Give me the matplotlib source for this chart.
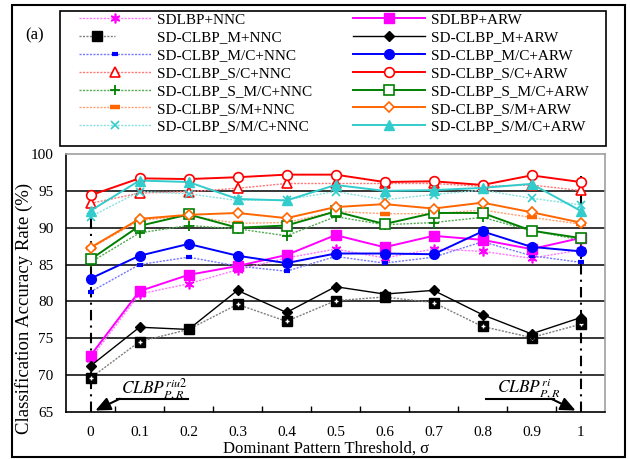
import matplotlib
matplotlib.use('Agg')
import matplotlib.pyplot as plt
from matplotlib.legend_handler import HandlerTuple
from matplotlib.patches import Rectangle

plt.rcParams['font.family'] = ['Liberation Serif', 'DejaVu Serif']
plt.rcParams['mathtext.fontset'] = 'stix'

# ---------------- data ----------------
thresholds = [0, 0.1, 0.2, 0.3, 0.4, 0.5, 0.6, 0.7, 0.8, 0.9, 1.0]
tick_labels = ['0', '0.1', '0.2', '0.3', '0.4', '0.5', '0.6', '0.7', '0.8', '0.9', '1']

sdlbp_nnc = [72.2, 81.0, 82.4, 84.3, 85.9, 87.1, 85.9, 87.1, 86.8, 85.85, 87.0]
sdlbp_arw = [72.65, 81.4, 83.6, 84.8, 86.3, 89.0, 87.35, 88.9, 88.35, 87.1, 88.6]
m_nnc = [69.6, 74.55, 76.2, 79.6, 77.3, 80.1, 80.6, 79.85, 76.6, 75.1, 76.9]
m_arw = [71.25, 76.5, 76.2, 81.5, 78.5, 82.0, 81.0, 81.5, 78.2, 75.6, 77.8]
mc_nnc = [81.3, 85.0, 86.0, 84.8, 84.1, 86.1, 85.2, 86.0, 88.1, 86.2, 85.3]
mc_arw = [83.1, 86.2, 87.8, 86.2, 85.2, 86.5, 86.5, 86.4, 89.5, 87.4, 86.8]
sc_nnc = [93.3, 94.7, 94.9, 95.35, 96.0, 96.0, 96.0, 96.0, 95.6, 95.8, 95.05]
sc_arw = [94.4, 96.7, 96.6, 96.85, 97.2, 97.2, 96.2, 96.3, 95.8, 97.1, 96.2]
s_mc_nnc = [85.3, 89.3, 90.3, 89.85, 88.9, 91.5, 90.4, 90.7, 91.4, 89.6, 88.35]
s_mc_arw = [85.7, 90.25, 91.8, 90.0, 90.3, 92.2, 90.5, 92.0, 92.0, 89.6, 88.6]
sm_nnc = [87.2, 91.0, 91.6, 90.6, 90.7, 92.2, 91.9, 91.9, 92.4, 91.4, 90.5]
sm_arw = [87.3, 91.2, 91.75, 92.0, 91.3, 92.8, 93.2, 92.6, 93.4, 92.1, 90.7]
smc_nnc = [91.5, 94.9, 94.6, 93.7, 93.8, 94.9, 93.8, 94.5, 95.1, 94.0, 93.1]
smc_arw = [92.3, 96.4, 96.2, 93.9, 93.7, 95.8, 95.0, 95.1, 95.4, 95.95, 92.3]

labels_nnc = ['SDLBP+NNC', 'SD-CLBP_M+NNC', 'SD-CLBP_M/C+NNC', 'SD-CLBP_S/C+NNC',
              'SD-CLBP_S_M/C+NNC', 'SD-CLBP_S/M+NNC', 'SD-CLBP_S/M/C+NNC']
labels_arw = ['SDLBP+ARW', 'SD-CLBP_M+ARW', 'SD-CLBP_M/C+ARW', 'SD-CLBP_S/C+ARW',
              'SD-CLBP_S_M/C+ARW', 'SD-CLBP_S/M+ARW', 'SD-CLBP_S/M/C+ARW']

# ---------------- figure ----------------
W, H = 630, 459
fig = plt.figure(figsize=(W / 100, H / 100), dpi=100)
ax = fig.add_axes([66 / W, 1 - 412 / H, 539 / W, 258 / H])

magenta, black, blue, red, green, orange, cyan = ('#FF00FF', '#000000', '#0000FF',
                                                  '#FF0000', '#008000', '#FF6600', '#33CCCC')
light = {magenta: '#FF77FF', black: '#7F7F7F', blue: '#7777FF', red: '#FF7777',
         green: '#55AA55', orange: '#FFA070', cyan: '#88E0E0'}

nnc_specs = [
    (sdlbp_nnc, magenta, dict(marker=(6, 2, 0), ms=7, mew=1.2, mfc=magenta, mec=magenta)),
    (m_nnc, black, dict(marker='s', ms=7.5, mfc='black', mec='black', mew=1)),
    (mc_nnc, blue, dict(marker='_', ms=5, mew=3, mec=blue)),
    (sc_nnc, red, dict(marker='^', ms=7, mfc='white', mec=red, mew=1.2)),
    (s_mc_nnc, green, dict(marker='+', ms=7, mew=1.3, mec=green)),
    (sm_nnc, orange, dict(marker='_', ms=7, mew=3.2, mec=orange)),
    (smc_nnc, cyan, dict(marker='x', ms=5.5, mew=1.2, mec=cyan)),
]
arw_specs = [
    (sdlbp_arw, magenta, dict(marker='s', ms=6.5, mfc=magenta, mec=magenta)),
    (m_arw, black, dict(marker='D', ms=5.5, mfc='black', mec='black')),
    (mc_arw, blue, dict(marker='o', ms=7, mfc=blue, mec=blue)),
    (sc_arw, red, dict(marker='o', ms=7, mfc='white', mec=red, mew=1.2)),
    (s_mc_arw, green, dict(marker='s', ms=6.5, mfc='white', mec=green, mew=1.2)),
    (sm_arw, orange, dict(marker='D', ms=5.5, mfc='white', mec=orange, mew=1.2)),
    (smc_arw, cyan, dict(marker='^', ms=7.5, mfc=cyan, mec=cyan)),
]

handles_nnc, handles_arw = [], []
for vals, col, mk in nnc_specs:
    ln, = ax.plot(thresholds, vals, color=light[col], ls=(0, (1.5, 1)), lw=1.0, zorder=3, **mk)
    if col == black:
        pl, = ax.plot(thresholds, vals, ls='none', marker='+', ms=3.5, mew=1.0,
                      mec='white', zorder=3.1)
        handles_nnc.append((ln, pl))
    else:
        handles_nnc.append(ln)
for vals, col, mk in arw_specs:
    lw = 1.0 if col == black else 1.4
    ln, = ax.plot(thresholds, vals, color=col, ls='-', lw=lw, zorder=4, **mk)
    handles_arw.append(ln)

# axes styling
ax.set_xlim(-0.05, 1.05)
ax.set_ylim(65, 100)
ax.set_yticks(range(65, 101, 5))
ax.set_xticks(thresholds)
ax.set_xticklabels(tick_labels)
ax.set_xticks([t + 0.05 for t in thresholds[:-1]], minor=True)
ax.tick_params(axis='x', which='major', length=0, pad=10, labelsize=11)
ax.tick_params(axis='x', which='minor', direction='in', length=4, width=1, color='black')
ax.tick_params(axis='y', length=0, pad=9, labelsize=11)
ax.yaxis.grid(True, color='black', lw=1.1)
ax.set_axisbelow(True)
gl = ax.get_ygridlines()
gl[0].set_visible(False)
gl[-1].set_visible(False)
for s in ('top', 'right'):
    ax.spines[s].set_color('#A0A0A0')
    ax.spines[s].set_linewidth(1.2)
for s in ('left', 'bottom'):
    ax.spines[s].set_color('black')
    ax.spines[s].set_linewidth(1.2)

ax.set_xlabel('Dominant Pattern Threshold, σ', fontsize=12)
ax.xaxis.set_label_coords(0.482, -0.112)
ax.set_ylabel('Classification Accuracy Rate (%)', fontsize=13.5)
ax.yaxis.set_label_coords(-0.062, 0.40)

# reference lines for the two limiting cases
ax.vlines(thresholds[0], 65, 95, colors='black', lw=1.5, ls=(0, (5, 2.5, 1, 2.5)), zorder=2)
ax.vlines(thresholds[-1], 65, 97, colors='black', lw=1.5, ls=(0, (5, 2.5, 1, 2.5)), zorder=2)

ax.text(0.063, 67.5, r'$\mathit{CLBP}_{P,R}^{riu2}$', fontsize=12.5, ha='left', va='baseline')
ax.plot([0.198, 0.055], [66.8, 66.8], color='black', lw=1.5, zorder=5)
ax.annotate('', xy=(0.01, 65.2), xytext=(0.06, 66.8),
            arrowprops=dict(arrowstyle='-|>,head_length=0.9,head_width=0.4',
                            color='black', lw=1.5, shrinkA=0, shrinkB=0), zorder=5)
ax.text(0.829, 67.5, r'$\mathit{CLBP}_{P,R}^{ri}$', fontsize=12.5, ha='left', va='baseline')
ax.plot([0.808, 0.945], [66.8, 66.8], color='black', lw=1.5, zorder=5)
ax.annotate('', xy=(0.99, 65.2), xytext=(0.94, 66.8),
            arrowprops=dict(arrowstyle='-|>,head_length=0.9,head_width=0.4',
                            color='black', lw=1.5, shrinkA=0, shrinkB=0), zorder=5)

# legend
fig.legend(handles_nnc + handles_arw, labels_nnc + labels_arw, ncol=2, frameon=False,
           loc='upper left', bbox_to_anchor=(79 / W, 1 - 13 / H), fontsize=11,
           handlelength=4.7, handletextpad=0.4, columnspacing=2.7, labelspacing=0.27,
           borderpad=0, borderaxespad=0, numpoints=1,
           handler_map={tuple: HandlerTuple(ndivide=None)})
fig.patches.append(Rectangle((60 / W, 1 - 146 / H), 546 / W, 135 / H, transform=fig.transFigure,
                             fill=False, edgecolor='black', lw=1.2))
# outer frame
fig.patches.append(Rectangle((12 / W, 1 - 457 / H), 613 / W, 452 / H, transform=fig.transFigure,
                             fill=False, edgecolor='black', lw=1.5))
fig.text(35 / W, 1 - 35 / H, '(a)', fontsize=12, ha='center', va='center')

fig.savefig('out.png', dpi=100)
